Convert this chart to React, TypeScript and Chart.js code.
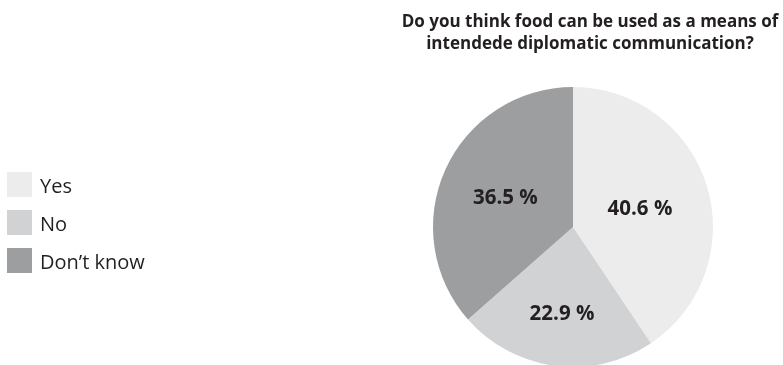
import React, { useEffect, useRef } from "react";
import { Chart, registerables } from "chart.js";

Chart.register(...registerables);

const categories = ["Yes", "No", "Don’t know"];
const values = [40.6, 22.9, 36.5];
const sliceColors = ["#ececec", "#d1d2d4", "#9d9ea0"];
const titleLines = [
  "Do you think food can be used as a means of",
  "intendede diplomatic communication?",
];

const FONT = "'Open Sans', Lato, sans-serif";
const TEXT_COLOR = "#231f20";

const overlayPlugin = {
  id: "overlay",
  afterDatasetsDraw(chart: any) {
    const ctx = chart.ctx as CanvasRenderingContext2D;
    const meta = chart.getDatasetMeta(0);
    const data = chart.data.datasets[0].data as number[];
    ctx.save();
    ctx.fillStyle = TEXT_COLOR;
    ctx.textAlign = "center";
    ctx.textBaseline = "alphabetic";
    ctx.font = `bold 20.5px ${FONT}`;
    meta.data.forEach((arc: any, i: number) => {
      const p = arc.getProps(["x", "y", "startAngle", "endAngle", "outerRadius"], true);
      const half = (p.endAngle - p.startAngle) / 2;
      const mid = p.startAngle + half;
      const d = ((2 / 3) * p.outerRadius * Math.sin(half)) / half;
      ctx.fillText(`${data[i].toFixed(1)} %`, p.x + d * Math.cos(mid), p.y + d * Math.sin(mid) + 8);
    });
    ctx.restore();
  },
  afterDraw(chart: any) {
    const ctx = chart.ctx as CanvasRenderingContext2D;
    ctx.save();
    ctx.fillStyle = TEXT_COLOR;
    ctx.textAlign = "center";
    ctx.textBaseline = "alphabetic";
    ctx.font = `bold 17px ${FONT}`;
    titleLines.forEach((line, i) => ctx.fillText(line, 590, 27 + i * 22));

    const labels = chart.data.labels as string[];
    const bg = chart.data.datasets[0].backgroundColor as string[];
    labels.forEach((lab, i) => {
      const y = 172 + i * 38;
      ctx.fillStyle = bg[i];
      ctx.fillRect(7, y, 25, 25);
      ctx.fillStyle = TEXT_COLOR;
      ctx.textAlign = "left";
      ctx.textBaseline = "alphabetic";
      ctx.font = `20px ${FONT}`;
      ctx.fillText(lab, 40, y + 21);
    });
    ctx.restore();
  },
};

export default function App() {
  const ref = useRef<HTMLCanvasElement | null>(null);
  useEffect(() => {
    if (!ref.current) return;
    const chart = new Chart(ref.current, {
      type: "pie",
      data: {
        labels: categories,
        datasets: [
          {
            data: values,
            backgroundColor: sliceColors,
            borderWidth: 0,
            radius: 140,
            clip: false,
          } as any,
        ],
      },
      options: {
        responsive: false,
        animation: false,
        layout: { padding: { left: 433, right: 70, top: 89, bottom: 0 } },
        plugins: {
          legend: { display: false },
          title: { display: false },
          tooltip: { enabled: false },
        },
      },
      plugins: [overlayPlugin],
    });
    return () => chart.destroy();
  }, []);
  return (
    <div style={{ position: "fixed", left: 0, top: 0, width: 783, height: 365, background: "#fff" }}>
      <canvas ref={ref} width={783} height={365} style={{ display: "block" }} />
    </div>
  );
}
